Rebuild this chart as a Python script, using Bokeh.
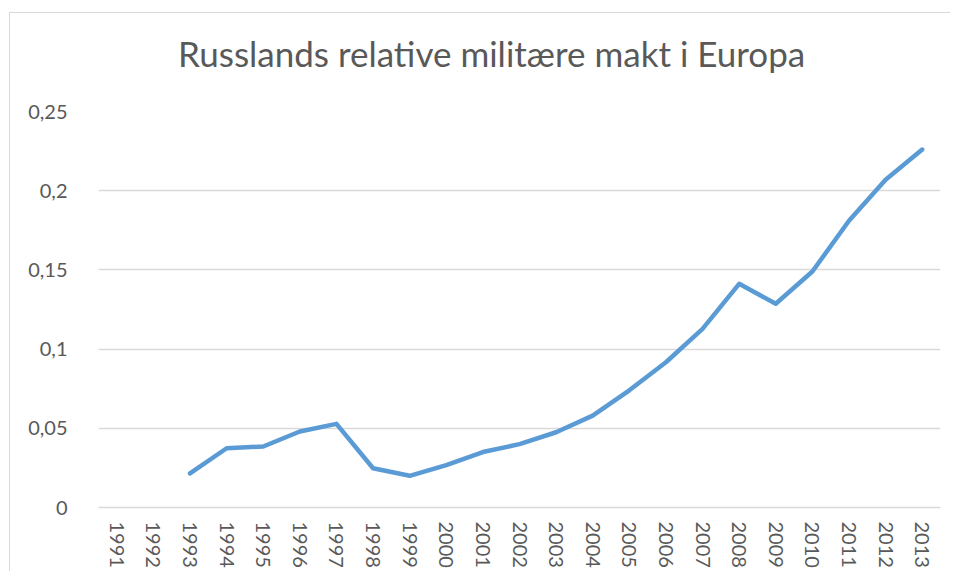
import math
from bokeh.plotting import figure
from bokeh.layouts import column
from bokeh.models import FactorRange, FixedTicker, CustomJSTickFormatter, ColumnDataSource, Div
from bokeh.embed import file_html
from bokeh.resources import INLINE

# ---- data ----
years = [str(y) for y in range(1991, 2014)]
values = [None, None, 0.0215, 0.0374, 0.0385, 0.0480, 0.0528, 0.0248, 0.0200,
          0.0268, 0.0350, 0.0400, 0.0475, 0.0580, 0.0740, 0.0917, 0.1128,
          0.1412, 0.1286, 0.1490, 0.1810, 0.2069, 0.2260]
y_ticks = [0, 0.05, 0.1, 0.15, 0.2, 0.25]
title_text = "Russlands relative militære makt i Europa"

FONT = "Lato"
GREY_TXT = "#595959"
GRID = "#d9d9d9"

src = ColumnDataSource(dict(x=years, y=[float("nan") if v is None else v for v in values]))

TITLE_H = 60
title_div = Div(
    text=(f'<div style="padding-top:23px;padding-left:168px;line-height:1;'
          f'font-family:{FONT};font-size:35px;color:{GREY_TXT};white-space:nowrap;">'
          f'{title_text}</div>'),
    width=940, height=TITLE_H, margin=0)

p = figure(width=940, height=558 - TITLE_H, x_range=FactorRange(*years, range_padding=0),
           y_range=(0, 0.25), output_backend="svg", toolbar_location=None,
           min_border_left=88, min_border_right=10, min_border_top=98 - TITLE_H,
           min_border_bottom=64, margin=0)
p.outline_line_color = None
p.background_fill_color = "white"
p.border_fill_color = "white"

p.line(x="x", y="y", source=src, line_color="#5b9bd5", line_width=4.5,
       line_join="round", line_cap="round")

p.xgrid.grid_line_color = None
p.ygrid.grid_line_color = GRID
p.ygrid.grid_line_width = 1.5
p.yaxis.ticker = FixedTicker(ticks=y_ticks)
p.yaxis.formatter = CustomJSTickFormatter(code="return Number(tick.toFixed(4)).toString().replace('.', ',');")
p.yaxis.axis_line_color = None
p.yaxis.major_tick_line_color = None
p.yaxis.minor_tick_line_color = None
p.yaxis.major_tick_out = 0
p.yaxis.major_label_standoff = 31
p.yaxis.major_label_text_font = FONT
p.yaxis.major_label_text_font_size = "20px"
p.yaxis.major_label_text_color = GREY_TXT

p.xaxis.axis_line_color = GRID
p.xaxis.axis_line_width = 1.5
p.xaxis.major_tick_line_color = None
p.xaxis.minor_tick_line_color = None
p.xaxis.major_tick_out = 0
p.xaxis.major_label_orientation = "vertical"
p.xaxis.major_label_standoff = 14
p.xaxis.major_label_text_font = FONT
p.xaxis.major_label_text_font_size = "20px"
p.xaxis.major_label_text_color = GREY_TXT

layout = column(title_div, p, spacing=0)
layout.margin = (12, 0, 0, 9)
layout.styles = {"border-left": "1px solid #d9d9d9", "border-top": "1px solid #d9d9d9",
                 "background": "white"}

open("out.html", "w").write(file_html(layout, INLINE))
